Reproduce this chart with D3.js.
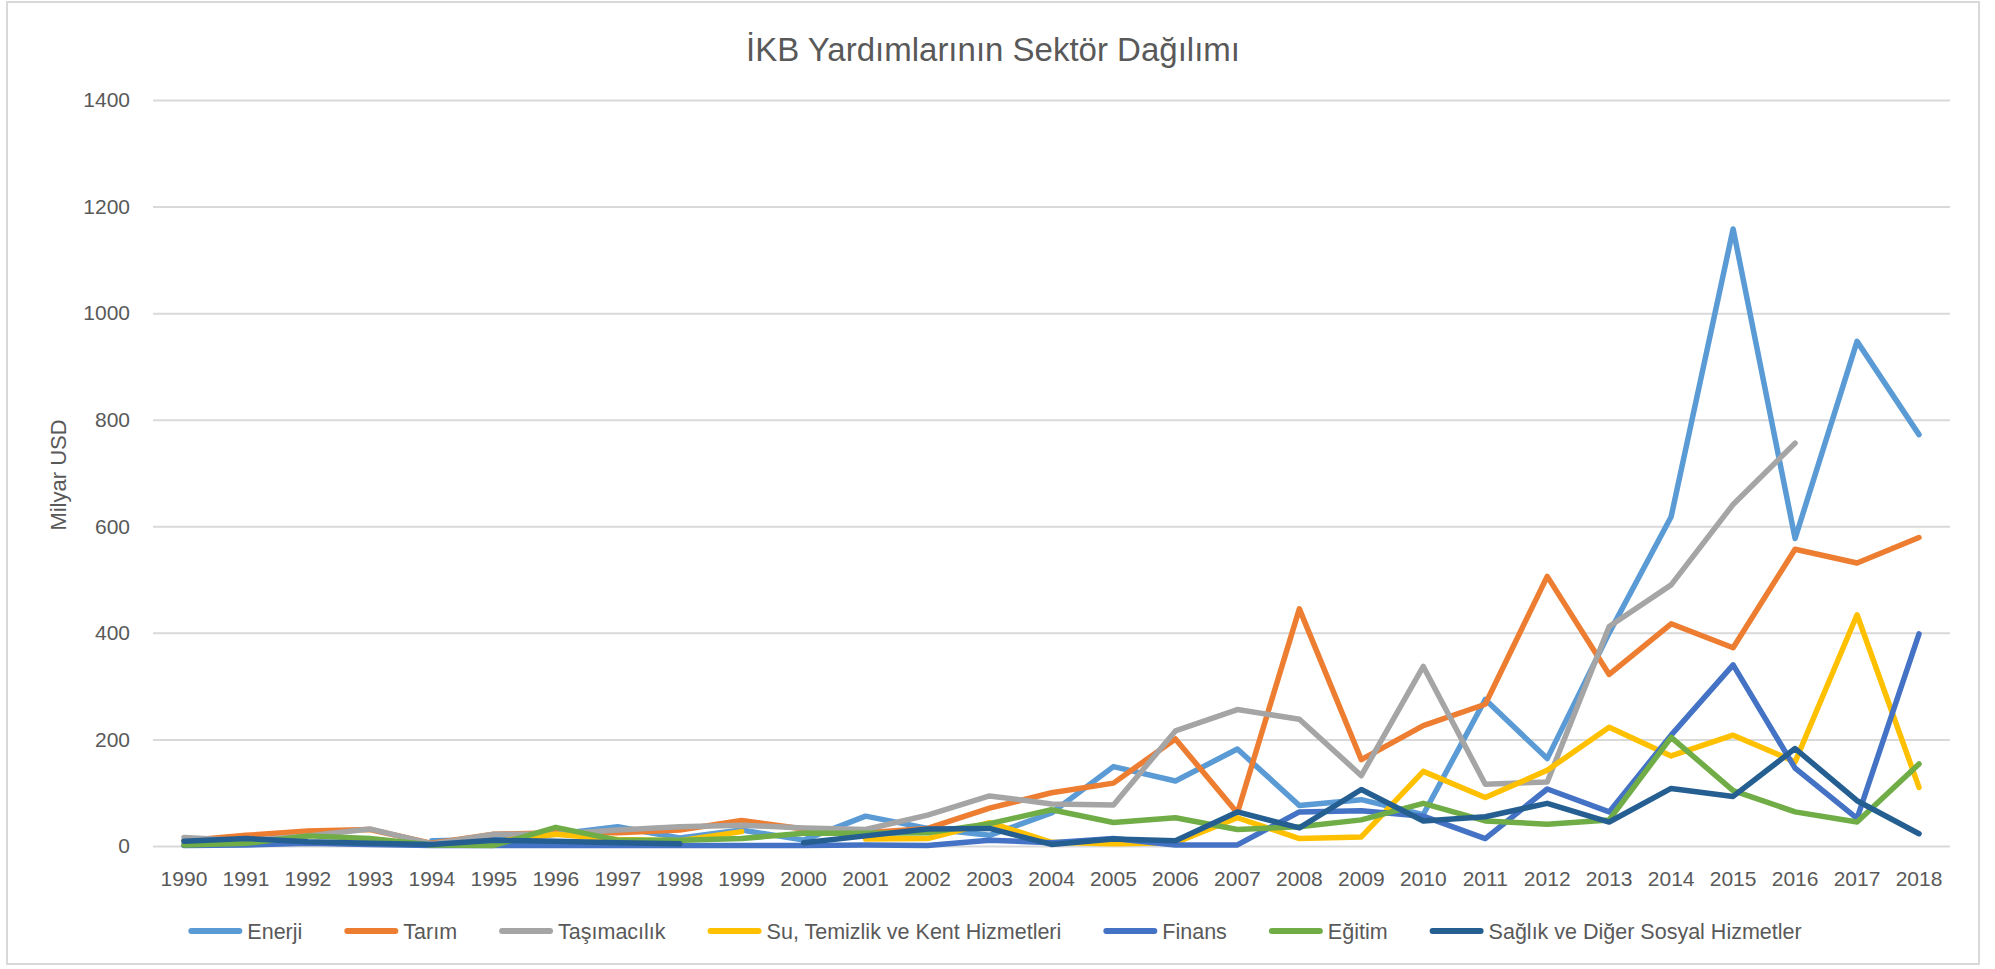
<!DOCTYPE html>
<html>
<head>
<meta charset="utf-8">
<script src="https://cdn.jsdelivr.net/npm/d3@7"></script>
<style>
  html, body { margin: 0; padding: 0; background: #fff; }
  svg text { font-family: "Liberation Sans", Arial, sans-serif; fill: #595959; }
</style>
</head>
<body>
<svg id="chart" width="1995" height="969"></svg>
<script>
// values (Milyar USD), null = no point drawn
const years = d3.range(1990, 2019).map(String);
const seriesNames = ["Enerji", "Tarım", "Taşımacılık", "Su, Temizlik ve Kent Hizmetleri", "Finans", "Eğitim", "Sağlık ve Diğer Sosyal Hizmetler"];
const seriesColors = ["#5B9BD5", "#ED7D31", "#A5A5A5", "#FFC000", "#4472C4", "#70AD47", "#255E91"];

const enerji = [null, null, null, null, 10, 12, 22, 36, 15, 30, 11, 56, 33, 20, 62, 149, 122, 182, 76, 87, 59, 275, 164, 400, 618, 1158, 577, 947, 772];
const tarim = [10, 20, 28, 31, 5, 22, 25, 25, 30, 48, 32, 25, 33, 71, 100, 118, 201, 62, 445, 162, 226, 266, 506, 322, 417, 372, 557, 531, 579];
const tasimacilik = [16, 10, 19, 32, 4, 22, 22, 30, 36, 39, 34, 31, 58, 94, 79, 77, 216, 256, 238, 132, 337, 116, 120, 412, 490, 641, 756, null, null];
const su = [null, null, null, null, null, 8, 22, 12, 10, 27, null, 13, 14, 44, 7, 4, 6, 53, 14, 17, 140, 91, 142, 223, 169, 208, 158, 434, 110];
const finans = [1, 2, 5, 3, 1, 1, 1, 1, 1, 1, 1, 2, 1, 11, 6, 14, 2, 2, 64, 66, 56, 14, 107, 64, 208, 340, 146, 52, 398];
const egitim = [2, 5, 19, 14, 2, 1, 35, 11, 11, 14, 24, 24, 25, 42, 68, 44, 53, 31, 36, 49, 80, 47, 41, 49, 204, 104, 64, 45, 154];
const saglik = [9, 14, 8, 5, 3, 11, 9, 6, 4, null, 6, 19, 32, 33, 3, 13, 10, 64, 34, 106, 47, 55, 80, 45, 108, 93, 183, 85, 23];

const yTicks = [0, 200, 400, 600, 800, 1000, 1200, 1400];

const seriesValues = [enerji, tarim, tasimacilik, su, finans, egitim, saglik];

const svg = d3.select("#chart");
const plot = { left: 153, right: 1950, top: 100, bottom: 846 };

// outer chart border
svg.append("rect")
    .attr("x", 7).attr("y", 2).attr("width", 1972).attr("height", 962)
    .attr("fill", "none").attr("stroke", "#D9D9D9").attr("stroke-width", 2);

svg.append("text")
    .attr("x", 993).attr("y", 61)
    .attr("text-anchor", "middle")
    .style("font-size", "33px")
    .text("İKB Yardımlarının Sektör Dağılımı");

const x = d3.scaleBand().domain(years).range([plot.left, plot.right]);
const y = d3.scaleLinear().domain([0, 1400]).range([plot.bottom, plot.top]);

const yAxis = svg.append("g")
    .attr("transform", `translate(${plot.left},0)`)
    .call(d3.axisLeft(y).tickValues(yTicks).tickFormat(d3.format("d"))
        .tickSize(-(plot.right - plot.left)).tickPadding(23));
yAxis.select(".domain").remove();
yAxis.selectAll(".tick line").attr("stroke", "#D9D9D9").attr("stroke-width", 2);
yAxis.selectAll(".tick text").style("font-size", "21px").attr("fill", "#595959");

const xAxis = svg.append("g")
    .attr("transform", `translate(0,${plot.bottom})`)
    .call(d3.axisBottom(x).tickSize(0).tickPadding(25));
xAxis.select(".domain").remove();
xAxis.selectAll(".tick text").style("font-size", "21px").attr("fill", "#595959");

svg.append("text")
    .attr("transform", "translate(66,475) rotate(-90)")
    .attr("text-anchor", "middle")
    .style("font-size", "22px")
    .text("Milyar USD");

const line = d3.line()
    .defined(d => d.v != null)
    .x(d => x(d.year) + x.bandwidth() / 2)
    .y(d => y(d.v));

seriesValues.forEach((vals, i) => {
    svg.append("path")
        .datum(years.map((yr, j) => ({ year: yr, v: vals[j] })))
        .attr("d", line)
        .attr("fill", "none")
        .attr("stroke", seriesColors[i])
        .attr("stroke-width", 5.5)
        .attr("stroke-linejoin", "round")
        .attr("stroke-linecap", "round");
});

// legend, laid out from the text widths and centred under the chart
const legend = svg.append("g");
let cursor = 0;
seriesNames.forEach((name, i) => {
    const item = legend.append("g").attr("transform", `translate(${cursor},0)`);
    item.append("line")
        .attr("x1", 3).attr("x2", 51)
        .attr("stroke", seriesColors[i]).attr("stroke-width", 6).attr("stroke-linecap", "round");
    const t = item.append("text")
        .attr("x", 59).attr("dy", "0.35em")
        .style("font-size", "21.5px")
        .text(name);
    cursor += 59 + t.node().getComputedTextLength() + 42;
});
const legendWidth = cursor - 42;
legend.attr("transform", `translate(${995 - legendWidth / 2},931)`);
</script>
</body>
</html>
